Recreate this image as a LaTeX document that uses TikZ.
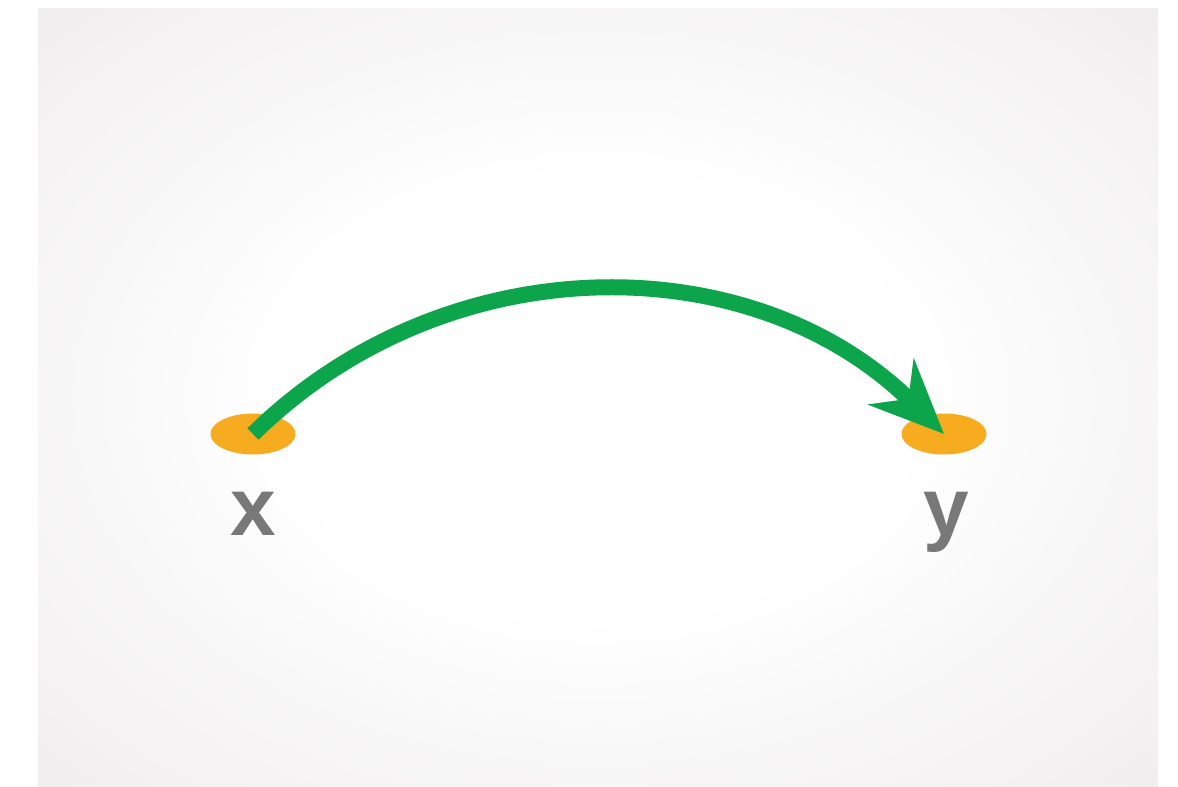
\documentclass[tikz,border=0pt]{standalone}
\usepackage{fontspec}
\setmainfont{Liberation Sans}
\usetikzlibrary{arrows.meta,shapes.geometric}
\definecolor{bggray}{HTML}{E9E5E6}
\definecolor{dotorange}{HTML}{F7AB1E}
\definecolor{arcgreen}{HTML}{0CA54B}
\definecolor{lblgray}{HTML}{787878}
\pgfdeclareradialshading{bgshade}{\pgfpoint{0bp}{0bp}}{color(0bp)=(white); color(14bp)=(white); color(46bp)=(bggray); color(50bp)=(bggray)}
\tikzset{
  dot/.style   ={ellipse,fill=dotorange,minimum width=42.5pt,minimum height=20.5pt,inner sep=0pt},
  lbl/.style   ={anchor=base,text=lblgray,font=\fontsize{41}{41}\selectfont\bfseries,inner sep=0pt},
  jump/.style  ={draw=arcgreen,line width=8pt,-{Stealth[length=37pt,width=32pt,inset=12pt]}}
}
\begin{document}
\begin{tikzpicture}[x=0.5pt,y=-0.5pt]
  \useasboundingbox (0,0) rectangle (1178,787);
  % background
  \shade[shading=bgshade] (38,8) rectangle (1158,787);
  \node[dot] (xpt) at (253,434) {};
  \node[dot] (ypt) at (944,434) {};
  \node[lbl] (xlbl) at (253,535) {x};
  \node[lbl] (ylbl) at (946,535) {y};
  \draw[jump] (xpt.center) .. controls (446,244) and (752,244) .. (ypt.center);
\end{tikzpicture}
\end{document}
